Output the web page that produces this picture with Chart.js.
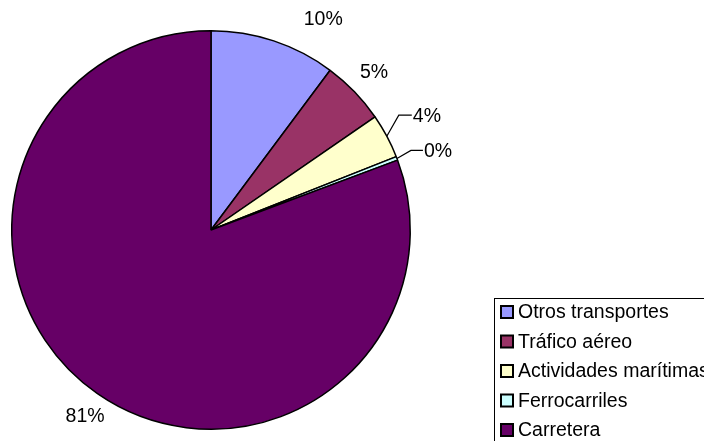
<!DOCTYPE html>
<html>
<head>
<meta charset="utf-8">
<script src="https://cdn.jsdelivr.net/npm/chart.js@4"></script>
<style>
html,body{margin:0;padding:0;background:#fff;}
#wrap{width:704px;height:441px;position:relative;}
</style>
</head>
<body>
<div id="wrap"><canvas id="c" width="704" height="441"></canvas></div>
<script>
const categories = ['Otros transportes', 'Tráfico aéreo', 'Actividades marítimas', 'Ferrocarriles', 'Carretera'];
const shares = [10.2, 5.2, 3.6, 0.3, 80.7];
const sliceColors = ['#9999FF', '#993366', '#FFFFCC', '#CCFFFF', '#660066'];

const FONT = '19.5px "Liberation Sans", Arial, sans-serif';

// label layout: 'radial' places text near the arc, 'leader' draws a connector line
const labelLayout = [
  {mode: 'radial', dist: 27, dx: 41, dy: 4},
  {mode: 'radial', dist: 27, dx: 0, dy: 0},
  {mode: 'leader', dist: 18, ex: 12, ey: -21, hl: 13},
  {mode: 'leader', dist: 18, ex: 14, ey: -8, hl: 12},
  {mode: 'radial', dist: 27, dx: 3, dy: 1}
];

const pctLabelsPlugin = {
  id: 'pctLabels',
  afterDatasetsDraw(chart) {
    const ctx = chart.ctx;
    const meta = chart.getDatasetMeta(0);
    const vals = chart.data.datasets[0].data;
    const total = vals.reduce((a, b) => a + b, 0);
    ctx.save();
    ctx.font = FONT;
    ctx.fillStyle = '#000';
    ctx.strokeStyle = '#000';
    ctx.lineWidth = 1.2;
    meta.data.forEach((arc, i) => {
      const p = arc.getProps(['x', 'y', 'startAngle', 'endAngle', 'outerRadius'], true);
      const a = (p.startAngle + p.endAngle) / 2;
      const txt = Math.round(vals[i] / total * 100) + '%';
      const L = labelLayout[i];
      if (L.mode === 'radial') {
        const r = p.outerRadius + L.dist;
        ctx.textAlign = 'center';
        ctx.textBaseline = 'middle';
        ctx.fillText(txt, p.x + Math.cos(a) * r + L.dx, p.y + Math.sin(a) * r + L.dy);
      } else {
        const sx = p.x + Math.cos(a) * p.outerRadius;
        const sy = p.y + Math.sin(a) * p.outerRadius;
        const ex = sx + L.ex, ey = sy + L.ey;
        ctx.beginPath();
        ctx.moveTo(sx, sy);
        ctx.lineTo(ex, ey);
        ctx.lineTo(ex + L.hl, ey);
        ctx.stroke();
        ctx.textAlign = 'left';
        ctx.textBaseline = 'middle';
        ctx.fillText(txt, ex + L.hl + 1, ey + 1);
      }
    });
    ctx.restore();
  }
};

const boxLegendPlugin = {
  id: 'boxLegend',
  afterDraw(chart) {
    const ctx = chart.ctx;
    const labels = chart.data.labels;
    const colors = chart.data.datasets[0].backgroundColor;
    const bx = 494.5, by = 298.5;
    ctx.save();
    ctx.fillStyle = '#fff';
    ctx.fillRect(bx, by, 260, 200);
    ctx.strokeStyle = '#000';
    ctx.lineWidth = 1;
    ctx.strokeRect(bx, by, 260, 200);
    ctx.font = FONT;
    ctx.textAlign = 'left';
    ctx.textBaseline = 'middle';
    labels.forEach((lab, i) => {
      const cy = 312 + i * 29.5;
      ctx.fillStyle = colors[i];
      ctx.fillRect(501, cy - 6, 12, 12);
      ctx.lineWidth = 2;
      ctx.strokeStyle = '#000';
      ctx.strokeRect(501, cy - 6, 12, 12);
      ctx.fillStyle = '#000';
      ctx.fillText(lab, 518, cy + 1);
    });
    ctx.restore();
  }
};

new Chart(document.getElementById('c'), {
  type: 'pie',
  data: {
    labels: categories,
    datasets: [{
      data: shares,
      backgroundColor: sliceColors,
      borderColor: '#000',
      borderWidth: 1.5,
      hoverOffset: 0
    }]
  },
  options: {
    responsive: false,
    animation: false,
    events: [],
    layout: {padding: {left: 11, right: 293, top: 30, bottom: 11}},
    plugins: {legend: {display: false}, tooltip: {enabled: false}}
  },
  plugins: [pctLabelsPlugin, boxLegendPlugin]
});
</script>
</body>
</html>
